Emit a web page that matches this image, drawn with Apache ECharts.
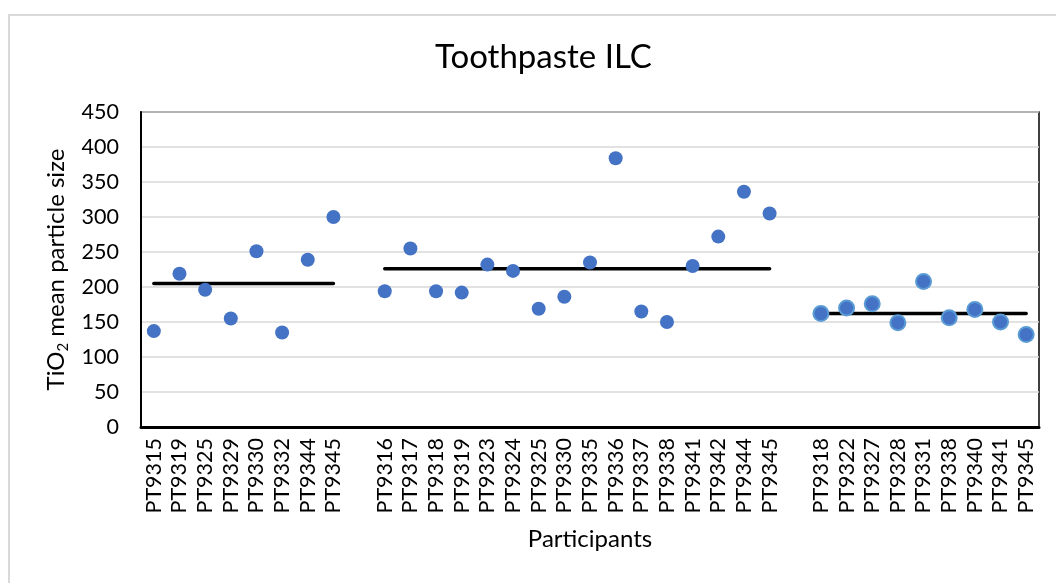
<!DOCTYPE html>
<html>
<head>
<meta charset="utf-8">
<script src="https://cdn.jsdelivr.net/npm/echarts@6/dist/echarts.min.js"></script>
<style>
  html, body { margin: 0; padding: 0; background: #fff; }
  #frame { position: absolute; left: 8px; top: 14px; width: 1200px; height: 700px;
           border-left: 2px solid #d9d9d9; border-top: 2px solid #d9d9d9; }
  #chart { position: absolute; left: 0; top: 0; width: 1056px; height: 583px; }
</style>
</head>
<body>
<div id="frame"></div>
<div id="chart"></div>
<script>
// participants per group (three sample sets)
var group1Names = ['PT9315', 'PT9319', 'PT9325', 'PT9329', 'PT9330', 'PT9332', 'PT9344', 'PT9345']
var group1Values = [137, 219, 196, 155, 251, 135, 239, 300]

var group2Names = ['PT9316', 'PT9317', 'PT9318', 'PT9319', 'PT9323', 'PT9324', 'PT9325', 'PT9330',
  'PT9335', 'PT9336', 'PT9337', 'PT9338', 'PT9341', 'PT9342', 'PT9344', 'PT9345']
var group2Values = [194, 255, 194, 192, 232, 223, 169, 186, 235, 384, 165, 150, 230, 272, 336, 305]

var group3Names = ['PT9318', 'PT9322', 'PT9327', 'PT9328', 'PT9331', 'PT9338', 'PT9340', 'PT9341', 'PT9345']
var group3Values = [162, 170, 176, 149, 208, 156, 168, 150, 132]

// mean line level of each group
var groupMeans = [205, 226, 162]

var yTicks = { min: 0, max: 450, interval: 50 }

// build the category axis: groups separated by one empty slot
var groups = [
  { names: group1Names, values: group1Values },
  { names: group2Names, values: group2Values },
  { names: group3Names, values: group3Values }
]
var categories = []
var pointSets = []
var meanSets = []
groups.forEach(function (g, gi) {
  if (gi > 0) categories.push('')
  var pts = []
  var mean = []
  g.names.forEach(function (n, i) {
    var idx = categories.length
    categories.push(n)
    pts.push([idx, g.values[i]])
    mean.push([idx, groupMeans[gi]])
  })
  pointSets.push(pts)
  meanSets.push(mean)
})

var font = 'Lato'
var series = []
meanSets.forEach(function (m) {
  series.push({
    type: 'line',
    data: m,
    symbol: 'none',
    z: 2,
    lineStyle: { color: '#000', width: 3.5, cap: 'round' },
    silent: true
  })
})
pointSets.forEach(function (p, i) {
  series.push({
    type: 'scatter',
    data: p,
    symbol: 'circle',
    symbolSize: i === 2 ? 15 : 14,
    z: 3,
    itemStyle: i === 2
      ? { color: '#4472C4', borderColor: '#5B9BD5', borderWidth: 2, opacity: 1 }
      : { color: '#4472C4', opacity: 1 }
  })
})

var chart = echarts.init(document.getElementById('chart'), null, { renderer: 'canvas' })
chart.setOption({
  backgroundColor: 'transparent',
  animation: false,
  title: {
    text: 'Toothpaste ILC',
    left: 430,
    top: 36,
    textStyle: { fontFamily: font, fontSize: 33, fontWeight: 'normal', color: '#000' }
  },
  grid: {
    left: 141, top: 112, width: 898, height: 315,
    show: true, borderColor: '#000', borderWidth: 1.5
  },
  xAxis: {
    type: 'category',
    data: categories,
    boundaryGap: true,
    name: 'Participants',
    nameLocation: 'middle',
    nameGap: 100,
    nameTextStyle: { fontFamily: font, fontSize: 24, color: '#000' },
    axisLine: { lineStyle: { color: '#000', width: 3 } },
    axisTick: { show: false },
    axisLabel: {
      interval: 0, rotate: 90, margin: 11,
      fontFamily: font, fontSize: 21.5, color: '#000'
    },
    splitLine: { show: false }
  },
  yAxis: {
    type: 'value',
    min: yTicks.min,
    max: yTicks.max,
    interval: yTicks.interval,
    name: '{a|TiO}{b|2}{a| mean particle size}',
    nameLocation: 'middle',
    nameGap: 66,
    nameTextStyle: {
      rich: {
        a: { fontFamily: font, fontSize: 24, color: '#000', lineHeight: 28 },
        b: { fontFamily: font, fontSize: 15, color: '#000', lineHeight: 28, verticalAlign: 'bottom', padding: [10, 0, 0, 0] }
      }
    },
    axisLine: { show: true, lineStyle: { color: '#000', width: 2 } },
    axisTick: { show: false },
    axisLabel: { margin: 22, fontFamily: font, fontSize: 21.5, color: '#000' },
    splitLine: { lineStyle: { color: '#d9d9d9', width: 1.5 } }
  },
  series: series
})
</script>
</body>
</html>
